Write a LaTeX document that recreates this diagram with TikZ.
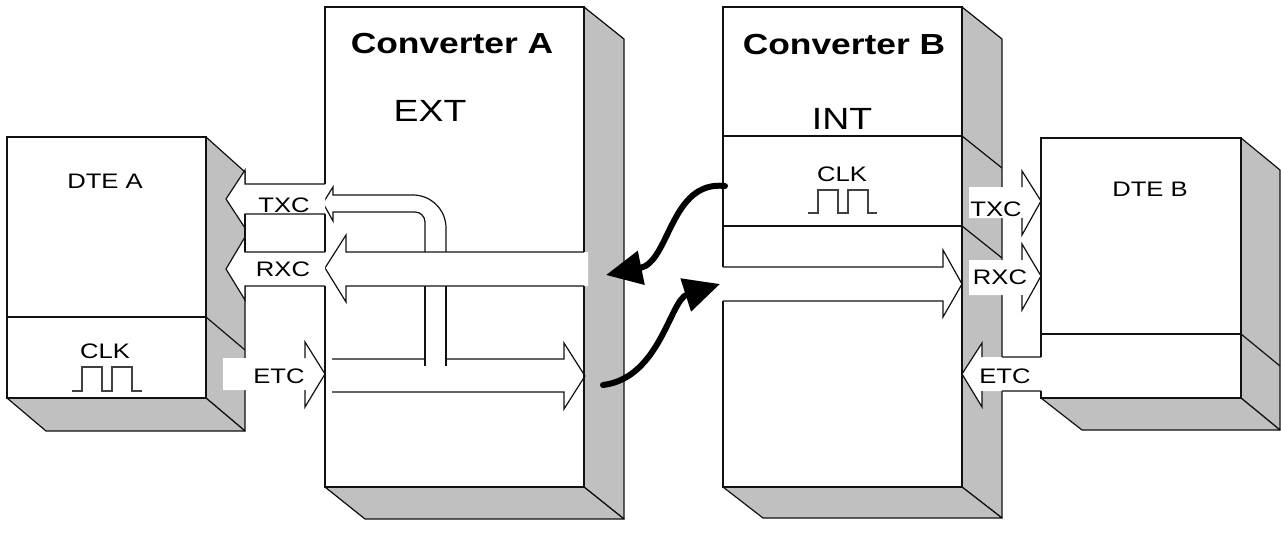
\documentclass[tikz,border=0pt]{standalone}
\usepackage{fontspec}
\newfontfamily\labfont[FakeStretch=1.22]{Liberation Sans}
\usetikzlibrary{arrows.meta}
\definecolor{sidegray}{HTML}{C0C0C0}
\definecolor{edge}{HTML}{111111}
\tikzset{
  face/.style={fill=white, draw=none},
  side/.style={fill=sidegray, draw=edge, line width=0.9pt, line join=round},
  edgeline/.style={draw=edge, line width=0.9pt},
  blockfill/.style={fill=white, draw=none},
  blockline/.style={draw=edge, line width=0.9pt, line join=miter},
  wave/.style={draw=black!75, line width=0.9pt},
  title/.style={font=\labfont\bfseries\fontsize{21.75}{24}\selectfont, anchor=base, inner sep=0pt},
  mode/.style={font=\labfont\fontsize{23}{26}\selectfont, anchor=base, inner sep=0pt},
  lab/.style={font=\labfont\fontsize{15.75}{18}\selectfont, anchor=base, inner sep=0pt},
  clockarrow/.style={line width=4.5pt, line cap=round, -{Triangle[length=27pt,width=25pt]}}
}
\begin{document}
\begin{tikzpicture}[x=0.75pt, y=-0.75pt]
\useasboundingbox (0,0) rectangle (1281,533);
\fill[white] (0,0) rectangle (1281,533);

% ---------------- DTE A ----------------
\path[side] (206,137) -- (245,172) -- (245,431) -- (206,398) -- cycle;
\path[side] (7,398) -- (46,431) -- (245,431) -- (206,398) -- cycle;
\draw[edgeline] (206,317) -- (245,350);
\path[face] (7,137) rectangle (206,398);
\draw[edgeline] (7,137) rectangle (206,398);
\draw[edgeline] (7,317) -- (206,317);
\node[lab] (dteA) at (105,188) {DTE A};
\node[lab] (clkA) at (105,358) {CLK};
\draw[wave] (72,391) -- (82,391) -- (82,367) -- (102,367) -- (102,391) -- (112,391)
            -- (112,367) -- (132,367) -- (132,391) -- (142,391);

% ---------------- Converter A ----------------
\path[side] (584,7) -- (624,39) -- (624,519) -- (584,487) -- cycle;
\path[side] (325,487) -- (365,519) -- (624,519) -- (584,487) -- cycle;
\path[face] (325,7) rectangle (584,487);
\draw[edgeline] (325,184) -- (325,7) -- (584,7) -- (584,252);
\draw[edgeline] (584,286) -- (584,487) -- (325,487) -- (325,286);
\draw[edgeline] (325,214) -- (325,252);
\node[title] (convA) at (452,53) {Converter A};
\node[mode] (ext) at (430,121) {EXT};

% TXC returned to DTE A, bent down from the ETC line
\filldraw[blockline, fill=white] (446,252) -- (446,228)
  .. controls (446,209.8) and (431.2,195) .. (413,195) -- (333,195) -- (333,187)
  -- (323,203) -- (333,221) -- (333,212) -- (415,212)
  .. controls (420.5,212) and (425,216.5) .. (425,222) -- (425,252);
\draw[blockline] (425,286) -- (425,366) (446,286) -- (446,366);

% RXC through Converter A
\path[blockfill] (588,252) -- (346,252) -- (346,235) -- (325,268) -- (346,302) -- (346,286) -- (588,286) -- cycle;
\draw[blockline] (584,252) -- (346,252) -- (346,235) -- (325,268) -- (346,302) -- (346,286) -- (584,286);

% ETC through Converter A
\draw[blockline] (332,359) -- (425,359) (446,359) -- (564,359) -- (564,343) -- (585,376)
  -- (564,409) -- (564,392) -- (332,392);

% ---- interface arrows between DTE A and Converter A ----
\path[blockfill] (325,184) -- (245,184) -- (245,170) -- (226,199) -- (245,228) -- (245,214) -- (325,214) -- cycle;
\draw[blockline] (325,184) -- (245,184) -- (245,170) -- (226,199) -- (245,228) -- (245,214) -- (325,214);
\path[blockfill] (325,252) -- (245,252) -- (245,237) -- (226,269) -- (245,300) -- (245,286) -- (325,286) -- cycle;
\draw[blockline] (325,252) -- (245,252) -- (245,237) -- (226,269) -- (245,300) -- (245,286) -- (325,286);
\draw[edgeline] (245,214) -- (245,252);
\path[blockfill] (223,358) -- (305,358) -- (305,342) -- (325,374) -- (305,407) -- (305,390) -- (223,390) -- cycle;
\draw[blockline] (305,358) -- (305,342) -- (325,374) -- (305,407) -- (305,390);
\node[lab] (txcA) at (284,212) {TXC};
\node[lab] (rxcA) at (283,276) {RXC};
\node[lab] (etcA) at (279,383) {ETC};

% ---------------- Converter B ----------------
\path[side] (962,7) -- (1002,39) -- (1002,518) -- (962,487) -- cycle;
\path[side] (723,487) -- (763,518) -- (1002,518) -- (962,487) -- cycle;
\draw[edgeline] (962,136) -- (1002,168) (962,226) -- (1002,258);
\path[face] (723,7) rectangle (962,487);
\draw[edgeline] (723,267) -- (723,7) -- (962,7) -- (962,487) -- (723,487) -- (723,301);
\draw[edgeline] (723,136) -- (962,136) (723,226) -- (962,226);
\node[title] (convB) at (844,54) {Converter B};
\node[mode] (int) at (842,129) {INT};
\node[lab] (clkB) at (842,181) {CLK};
\draw[wave] (808,213) -- (818,213) -- (818,190) -- (838,190) -- (838,213) -- (848,213)
            -- (848,190) -- (868,190) -- (868,213) -- (877,213);

% RXC through Converter B
\draw[blockline] (723,267) -- (943,267) -- (943,250) -- (962,284) -- (943,317) -- (943,301) -- (723,301);

% ---------------- DTE B ----------------
\path[side] (1241,138) -- (1280,170) -- (1280,430) -- (1241,398) -- cycle;
\path[side] (1041,398) -- (1082,430) -- (1280,430) -- (1241,398) -- cycle;
\draw[edgeline] (1241,334) -- (1280,366);
\path[face] (1041,138) rectangle (1241,398);
\draw[edgeline] (1041,357) -- (1041,138) -- (1241,138) -- (1241,398) -- (1041,398) -- (1041,391);
\draw[edgeline] (1041,334) -- (1241,334);
\node[lab] (dteB) at (1150,196) {DTE B};

% ---- interface arrows between Converter B and DTE B ----
\path[blockfill] (969,187) -- (1022,187) -- (1022,171) -- (1041,201) -- (1022,235) -- (1022,218) -- (969,218) -- cycle;
\draw[blockline] (1022,187) -- (1022,171) -- (1041,201) -- (1022,235) -- (1022,218);
\path[blockfill] (969,260) -- (1022,260) -- (1022,244) -- (1041,276) -- (1022,310) -- (1022,295) -- (969,295) -- cycle;
\draw[blockline] (1022,260) -- (1022,244) -- (1041,276) -- (1022,310) -- (1022,295);
\path[blockfill] (1041,357) -- (982,357) -- (982,343) -- (962,374) -- (982,407) -- (982,391) -- (1041,391) -- cycle;
\draw[blockline] (1041,357) -- (1002,357) (982,357) -- (982,343) -- (962,374) -- (982,407) -- (982,391) (1002,391) -- (1041,391);
\node[lab] (txcB) at (996,216) {TXC};
\node[lab] (rxcB) at (1000,284) {RXC};
\node[lab] (etcB) at (1005,383) {ETC};

% ---------------- clock hand-over between the converters ----------------
\coordinate (clkOut) at (725,186);
\coordinate (rxcIn) at (606,275);
\coordinate (etcOut) at (603,385);
\coordinate (rxcB) at (720,284);
\draw[clockarrow] (clkOut) .. controls (670,180) and (670,262) .. (rxcIn);
\draw[clockarrow] (etcOut) .. controls (660,378) and (670,300) .. (rxcB);
\end{tikzpicture}
\end{document}
